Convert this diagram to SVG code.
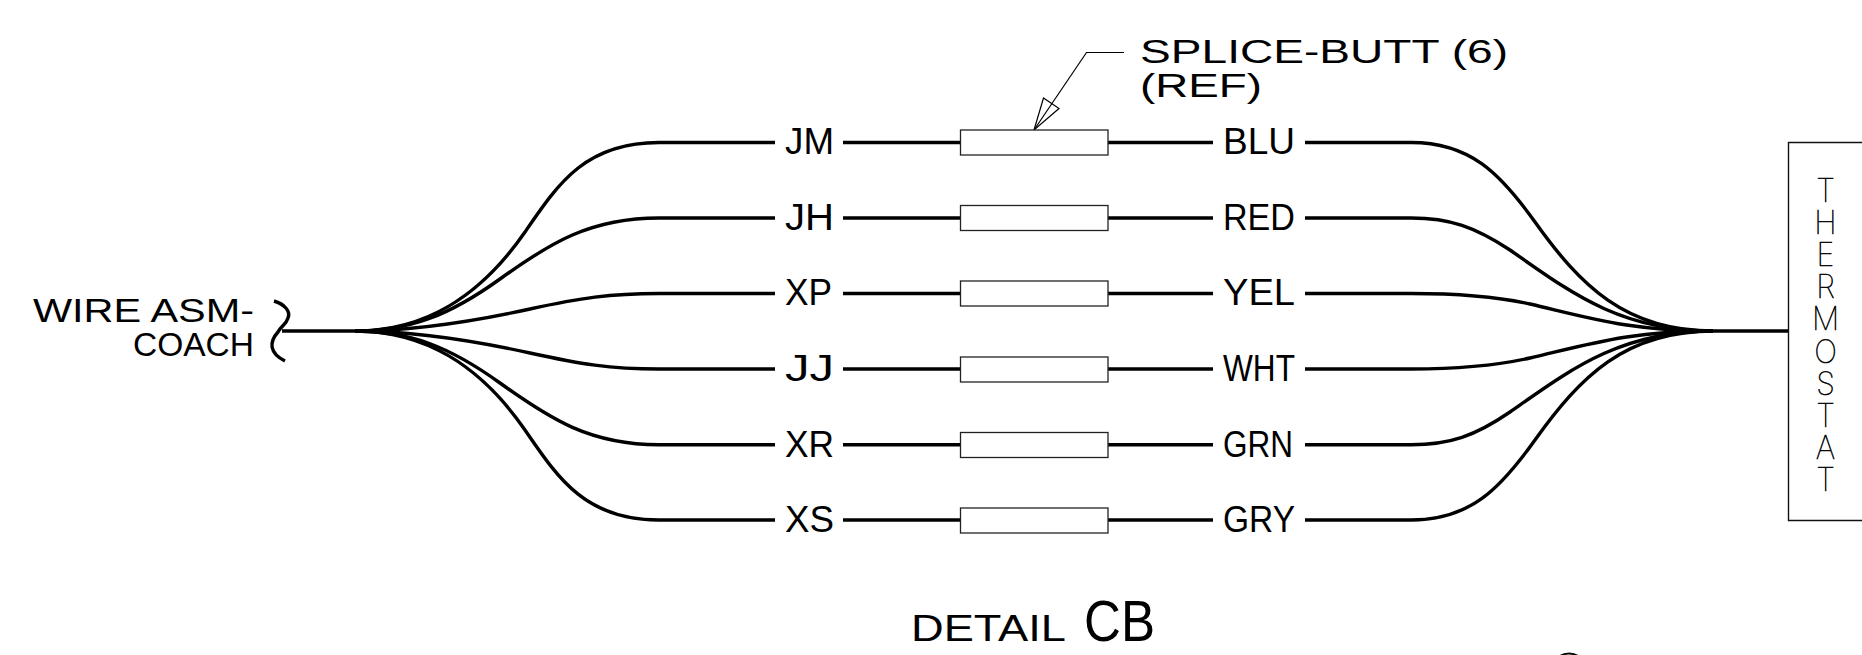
<svg xmlns="http://www.w3.org/2000/svg" width="1862" height="655" viewBox="0 0 1862 655">
<style>
text{font-family:"Liberation Sans",Arial,sans-serif;font-size:36px;fill:#000}
.s{font-size:33px}
.w{fill:none;stroke:#000;stroke-width:3.4}
.t{fill:none;stroke:#000;stroke-width:1.2}
.box{fill:#fff;stroke:#222;stroke-width:1.3}
.th{font-family:"Inter",sans-serif;font-weight:100;font-size:32px;stroke:#000;stroke-width:.55;writing-mode:vertical-rl;text-orientation:upright;letter-spacing:-6.8px}
</style>
<rect width="1862" height="655" fill="#fff"/>
<g id="connectors">
<path class="w" d="M282 331H355"/>
<path class="w" d="M1713 331H1789"/>
<path class="w" d="M274 301C284 304 291 311 288 318C286 325 281 326 278 332C269 342 269 353 285 361"/>
<path id="w1" class="w" d="M355 331C425 331 480 297 525 232C558 184 585 142.5 659 142.5H775M843 142.5H961M1108 142.5H1213M1305 142.5H1411C1470 142.5 1500 173 1535 222C1580 285 1625 331 1713 331"/>
<path id="w2" class="w" d="M355 331C410 331 450 315 500 279C550 243 590 218 659 218H775M843 218H961M1108 218H1213M1305 218H1411C1450 218 1475 227 1510 250C1570 292 1620 331 1713 331"/>
<path id="w3" class="w" d="M355 331C420 331 480 320 530 309C580 298 610 293.5 659 293.5H775M843 293.5H961M1108 293.5H1213M1305 293.5H1411C1450 293.5 1490 295 1530 304C1590 318 1630 331 1713 331"/>
<path id="w4" class="w" d="M355 331C420 331 480 342 530 353C580 364 610 369 659 369H775M843 369H961M1108 369H1213M1305 369H1411C1450 369 1490 367 1530 358C1590 344 1630 331 1713 331"/>
<path id="w5" class="w" d="M355 331C410 331 450 347 500 383C550 419 590 444.7 659 444.7H775M843 444.7H961M1108 444.7H1213M1305 444.7H1411C1450 444.7 1475 436 1510 412C1570 370 1620 331 1713 331"/>
<path id="w6" class="w" d="M355 331C425 331 480 365 525 430C558 478 585 520 659 520H775M843 520H961M1108 520H1213M1305 520H1411C1470 520 1500 489 1535 440C1580 377 1625 331 1713 331"/>
<path class="t" d="M1124 52.5H1086.5L1034 130"/>
<path class="t" d="M1034 130L1043.5 98L1059 108.5Z"/>
<path d="M1560 656C1565 652.5 1573 652.5 1578 656" fill="none" stroke="#000" stroke-width="2"/>
</g>
<g id="splice-label"><text class="s" x="1140" y="63" textLength="368" lengthAdjust="spacingAndGlyphs">SPLICE-BUTT (6)</text><text class="s" x="1140" y="97" textLength="122" lengthAdjust="spacingAndGlyphs">(REF)</text></g>
<g id="wire-label"><text class="s" x="33" y="322" textLength="221" lengthAdjust="spacingAndGlyphs">WIRE ASM-</text><text class="s" x="133" y="356" textLength="121" lengthAdjust="spacingAndGlyphs">COACH</text></g>
<g id="splice-1"><rect class="box" x="960.5" y="130" width="147.5" height="25"/><text x="785" y="154" textLength="49" lengthAdjust="spacingAndGlyphs">JM</text><text x="1223" y="154" textLength="72" lengthAdjust="spacingAndGlyphs">BLU</text></g>
<g id="splice-2"><rect class="box" x="960.5" y="205.5" width="147.5" height="25"/><text x="785" y="229.5" textLength="49" lengthAdjust="spacingAndGlyphs">JH</text><text x="1223" y="229.5" textLength="72" lengthAdjust="spacingAndGlyphs">RED</text></g>
<g id="splice-3"><rect class="box" x="960.5" y="281" width="147.5" height="25"/><text x="785" y="305" textLength="47" lengthAdjust="spacingAndGlyphs">XP</text><text x="1223" y="305" textLength="72" lengthAdjust="spacingAndGlyphs">YEL</text></g>
<g id="splice-4"><rect class="box" x="960.5" y="357" width="147.5" height="25"/><text x="785" y="381" textLength="49" lengthAdjust="spacingAndGlyphs">JJ</text><text x="1223" y="381" textLength="72" lengthAdjust="spacingAndGlyphs">WHT</text></g>
<g id="splice-5"><rect class="box" x="960.5" y="432.5" width="147.5" height="25"/><text x="785" y="456.5" textLength="49" lengthAdjust="spacingAndGlyphs">XR</text><text x="1223" y="456.5" textLength="70" lengthAdjust="spacingAndGlyphs">GRN</text></g>
<g id="splice-6"><rect class="box" x="960.5" y="508" width="147.5" height="25"/><text x="785" y="532" textLength="49" lengthAdjust="spacingAndGlyphs">XS</text><text x="1223" y="532" textLength="72" lengthAdjust="spacingAndGlyphs">GRY</text></g>
<g id="thermostat">
<path d="M1870 142.5H1788.5V520.5H1870" fill="none" stroke="#111" stroke-width="1.4"/>
<text class="th" transform="translate(1825.5 171) scale(.95 1)" x="0" y="0">THERMOSTAT</text>
</g>
<g id="detail-title"><text x="911" y="641" textLength="155" lengthAdjust="spacingAndGlyphs">DETAIL</text><text x="1084" y="641" style="font-size:58px" textLength="71" lengthAdjust="spacingAndGlyphs">CB</text></g>
</svg>
